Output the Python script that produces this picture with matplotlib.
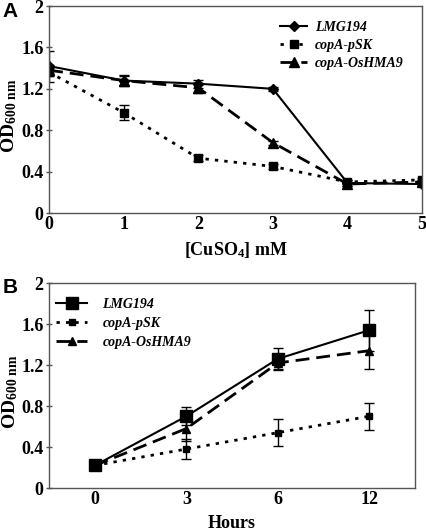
import matplotlib
matplotlib.use("Agg")
import matplotlib.pyplot as plt

plt.rcParams['font.family'] = ['Liberation Serif', 'DejaVu Serif']
plt.rcParams['font.weight'] = 'bold'
plt.rcParams['axes.labelweight'] = 'bold'
plt.rcParams['mathtext.fontset'] = 'custom'
plt.rcParams['mathtext.rm'] = 'Liberation Serif:bold'
plt.rcParams['mathtext.it'] = 'Liberation Serif:bold:italic'
plt.rcParams['mathtext.bf'] = 'Liberation Serif:bold'
plt.rcParams['mathtext.default'] = 'regular'

# panel A: growth vs copper concentration
cu_mm = [0, 1, 2, 3, 4, 5]
a_lmg = [1.42, 1.28, 1.25, 1.20, 0.29, 0.28]
a_lmg_err = [0.15, 0.05, 0.04, 0.02, 0.03, 0.02]
a_psk = [1.36, 0.97, 0.53, 0.45, 0.30, 0.32]
a_psk_err = [0.04, 0.07, 0.03, 0.02, 0.02, 0.02]
a_hma = [1.38, 1.28, 1.21, 0.68, 0.28, 0.30]
a_hma_err = [0.05, 0.04, 0.05, 0.02, 0.02, 0.02]

# panel B: growth over time
hours = ['0', '3', '6', '12']
b_lmg = [0.22, 0.70, 1.26, 1.54]
b_lmg_err = [0.02, 0.09, 0.11, 0.20]
b_psk = [0.22, 0.38, 0.54, 0.70]
b_psk_err = [0.02, 0.10, 0.13, 0.13]
b_hma = [0.22, 0.58, 1.22, 1.34]
b_hma_err = [0.02, 0.12, 0.06, 0.18]

yticks = [0, 0.4, 0.8, 1.2, 1.6, 2]
ytick_labels = ['0', '0.4', '0.8', '1.2', '1.6', '2']

fig = plt.figure(figsize=(4.27, 5.32), dpi=100)
axA = fig.add_axes([0.115, 0.5996, 0.8735, 0.389])
axB = fig.add_axes([0.115, 0.0827, 0.857, 0.3853])

dotted = (0, (1.2, 2.2))
dashed = (0, (5, 2.5))
eb = dict(fmt='none', ecolor='black', elinewidth=1, capsize=3.5, capthick=1)

axA.errorbar(cu_mm, a_lmg, yerr=a_lmg_err, **eb)
axA.errorbar(cu_mm, a_psk, yerr=a_psk_err, **eb)
axA.errorbar(cu_mm, a_hma, yerr=a_hma_err, **eb)
axA.plot(cu_mm, a_lmg, color='black', marker='D', ms=5, lw=1.5, ls='-', label='LMG194')
axA.plot(cu_mm, a_psk, color='black', marker='s', ms=6, lw=2, ls=dotted, label='copA-pSK')
axA.plot(cu_mm, a_hma, color='black', marker='^', ms=6.5, lw=2, ls=dashed, label='copA-OsHMA9')
axA.set_xlim(0, 5)
axA.set_ylim(0, 2)
axA.set_xticks(cu_mm)
axA.set_yticks(yticks)
axA.set_yticklabels(ytick_labels)
axA.set_xlabel('[CuSO$_4$] mM', fontsize=13, fontweight='bold', labelpad=5)
axA.set_ylabel('OD$_{600\\ nm}$', fontsize=14, fontweight='bold')
axA.yaxis.set_label_coords(-0.08, 0.47)
axA.legend(loc='upper left', frameon=False,
           prop={'style': 'italic', 'weight': 'bold', 'size': 10},
           handlelength=1.9, handletextpad=0.6, borderaxespad=0.0,
           labelspacing=0.35, bbox_to_anchor=(0.605, 0.955))

xpos = list(range(1, len(hours) + 1))
axB.errorbar(xpos, b_lmg, yerr=b_lmg_err, **eb)
axB.errorbar(xpos, b_psk, yerr=b_psk_err, **eb)
axB.errorbar(xpos, b_hma, yerr=b_hma_err, **eb)
axB.plot(xpos, b_lmg, color='black', marker='s', ms=9, lw=1.5, ls='-', label='LMG194')
axB.plot(xpos, b_psk, color='black', marker='s', ms=5, lw=2, ls=dotted, label='copA-pSK')
axB.plot(xpos, b_hma, color='black', marker='^', ms=6, lw=2, ls=dashed, label='copA-OsHMA9')
axB.set_xlim(0.5, 4.5)
axB.set_ylim(0, 2)
axB.set_xticks(xpos)
axB.set_xticklabels(hours)
axB.set_yticks(yticks)
axB.set_yticklabels(ytick_labels)
axB.set_xlabel('Hours', fontsize=13, fontweight='bold', labelpad=5)
axB.set_ylabel('OD$_{600\\ nm}$', fontsize=14, fontweight='bold')
axB.yaxis.set_label_coords(-0.08, 0.47)
axB.legend(loc='upper left', frameon=False,
           prop={'style': 'italic', 'weight': 'bold', 'size': 10},
           handlelength=2.2, handletextpad=1.1, borderaxespad=0.0,
           labelspacing=0.45, bbox_to_anchor=(0.005, 0.955))

for ax in (axA, axB):
    for s in ax.spines.values():
        s.set_color('#555555')
        s.set_linewidth(1)
    ax.tick_params(axis='y', length=4, direction='inout', width=1, color='#555555',
                   labelsize=13, pad=2)
    ax.tick_params(axis='x', length=0, labelsize=13, pad=2)

fig.text(0.005, 0.968, 'A', fontsize=15, fontweight='bold', family='Liberation Sans')
fig.text(0.005, 0.450, 'B', fontsize=15, fontweight='bold', family='Liberation Sans')

fig.savefig('out.png', dpi=100)
